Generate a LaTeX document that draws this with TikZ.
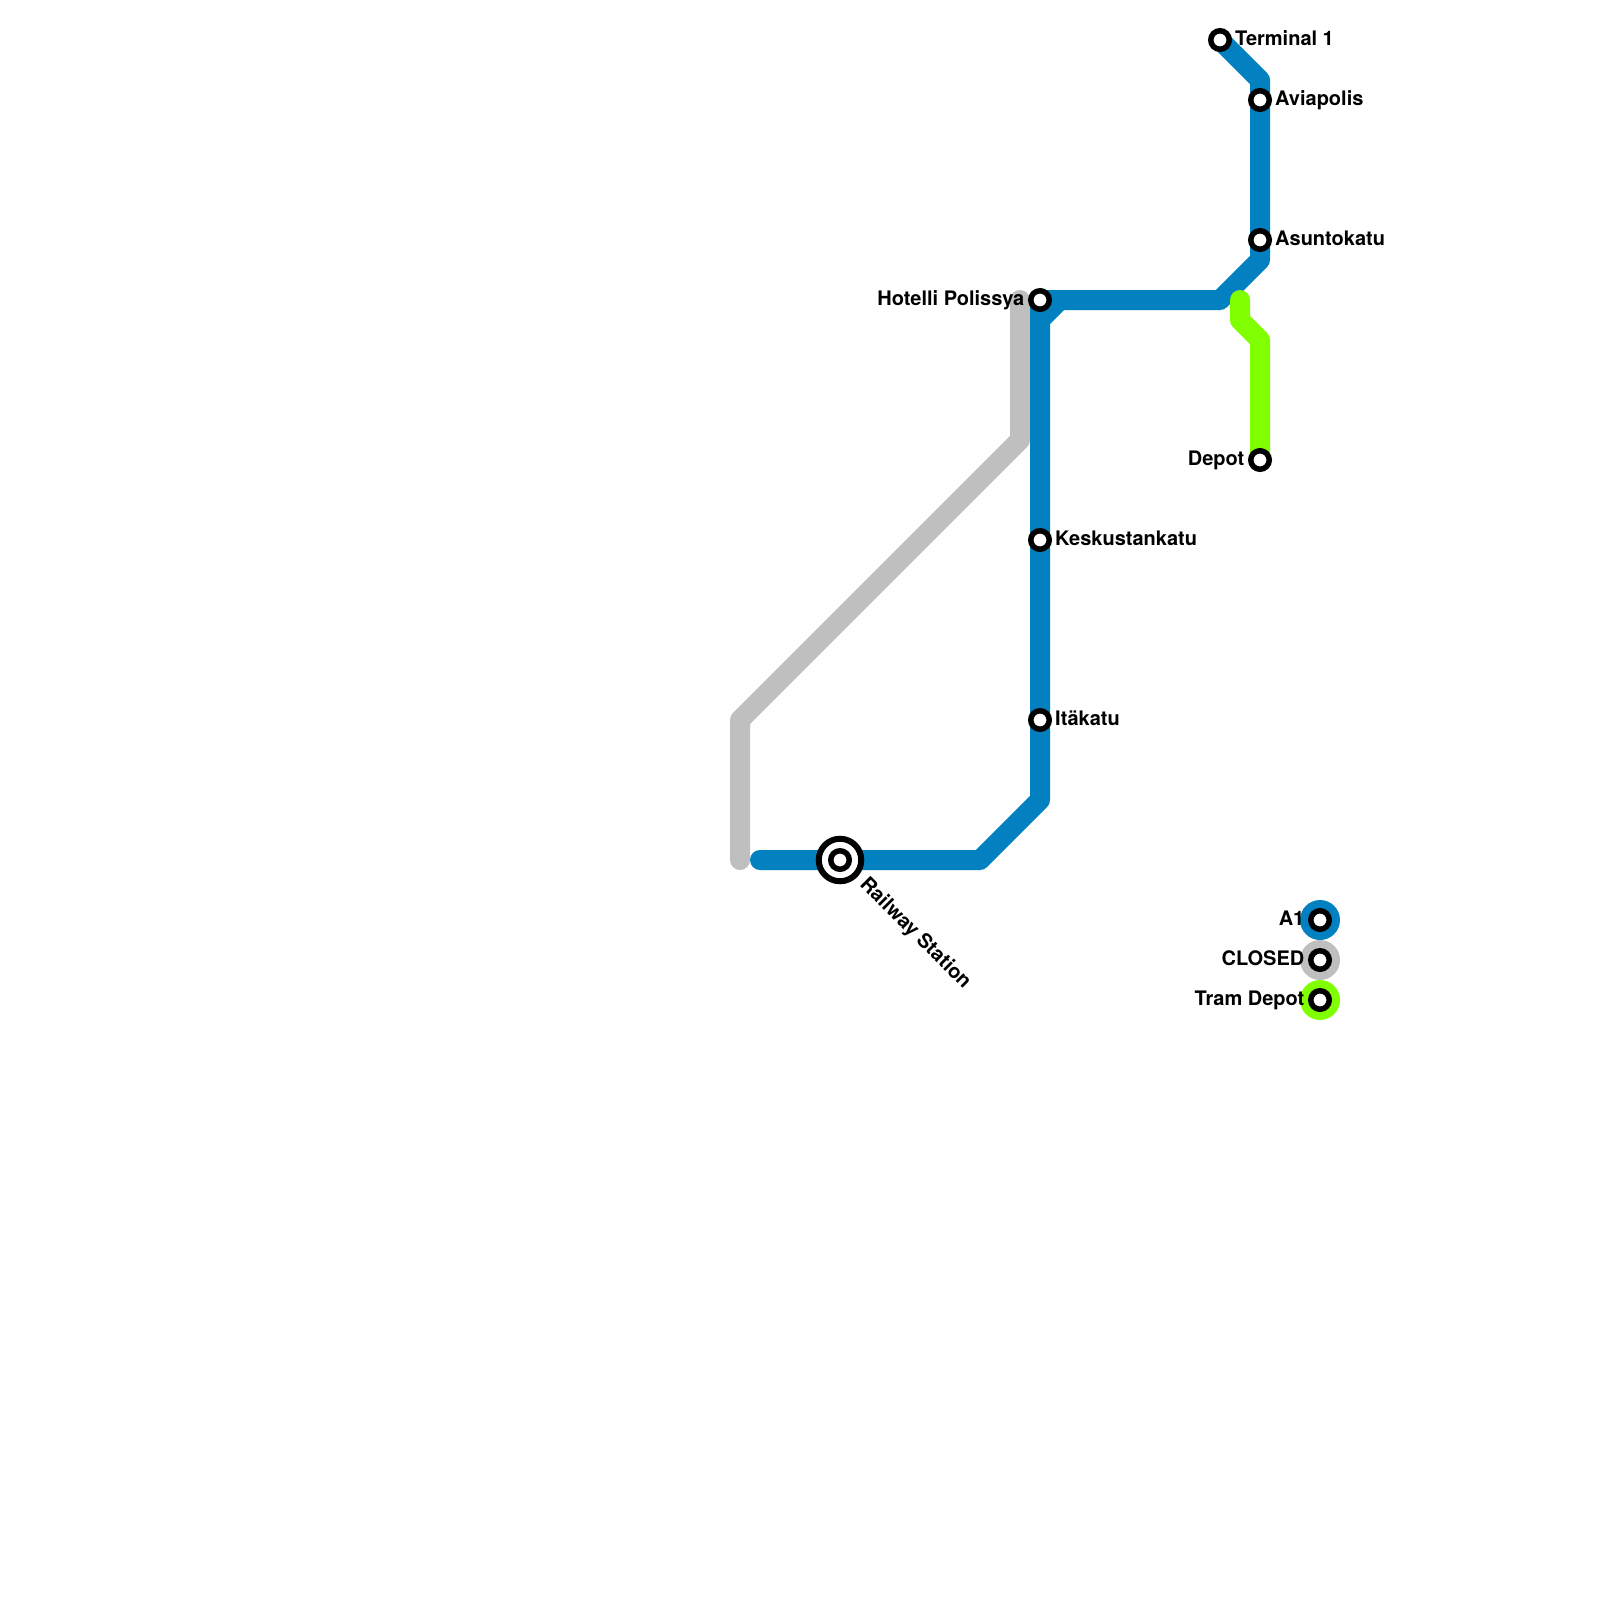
\documentclass[tikz,border=0pt]{standalone}
\usepackage{fontspec}
\setmainfont{TeX Gyre Heros}
\usetikzlibrary{backgrounds}

\definecolor{lineblue}{HTML}{0380C0}
\definecolor{linegrey}{HTML}{BFBFBF}
\definecolor{linegreen}{HTML}{7FFF00}

\begin{document}
\begin{tikzpicture}[x=1pt, y=-1pt]
    \tikzstyle{stop} = [
        circle, draw=black, fill=white, line width=5.5pt,
        minimum size=18.5pt, inner sep=0pt
    ]

    \tikzstyle{ring} = [
        circle, draw=black, fill=white, line width=6pt,
        minimum size=42.5pt, inner sep=0pt
    ]

    \tikzstyle{dot} = [circle, minimum size=40pt, inner sep=0pt]

    \tikzstyle{stop_name} = [
        inner sep=0pt, font=\fontsize{20}{20}\selectfont\bfseries
    ]

    \tikzstyle{name_right} = [stop_name, anchor=base west, xshift=3pt, yshift=-5.4pt]

    \tikzstyle{name_left} = [stop_name, anchor=base east, xshift=-3.5pt, yshift=-5.4pt]

    \tikzstyle{track} = [line width=20pt, line cap=round, line join=round]

    \useasboundingbox (0,0) rectangle (1600,1600);

    % Stations
    \node[stop] (terminal) at (1220,40) {};
    \node[stop] (aviapolis) at (1260,100) {};
    \node[stop] (asuntokatu) at (1260,240) {};
    \node[stop] (polissya) at (1040,300) {};
    \node[stop] (depot) at (1260,460) {};
    \node[stop] (keskusta) at (1040,540) {};
    \node[stop] (itakatu) at (1040,720) {};
    \node[ring] (railway_ring) at (840,860) {};
    \node[stop] (railway) at (railway_ring.center) {};

    % Legend
    \node[dot, fill=lineblue] (key_a1) at (1320,920) {};
    \node[dot, fill=linegrey] (key_closed) at (1320,960) {};
    \node[dot, fill=linegreen] (key_tram) at (1320,1000) {};
    \node[stop] (stop_a1) at (key_a1.center) {};
    \node[stop] (stop_closed) at (key_closed.center) {};
    \node[stop] (stop_tram) at (key_tram.center) {};

    % Names
    \node[name_right] (terminal_name) at (terminal.east) {Terminal 1};
    \node[name_right] (aviapolis_name) at (aviapolis.east) {Aviapolis};
    \node[name_right] (asuntokatu_name) at (asuntokatu.east) {Asuntokatu};
    \node[name_left] (polissya_name) at (polissya.west) {Hotelli Polissya};
    \node[name_left] (depot_name) at (depot.west) {Depot};
    \node[name_right] (keskusta_name) at (keskusta.east) {Keskustankatu};
    \node[name_right] (itakatu_name) at (itakatu.east) {Itäkatu};
    \node[stop_name, anchor=base west, rotate=-45] (railway_name)
        at ([xshift=19pt, yshift=-25pt]railway.center) {Railway Station};
    \node[name_left] (a1_name) at (stop_a1.west) {A1};
    \node[name_left] (closed_name) at (stop_closed.west) {CLOSED};
    \node[name_left] (tram_name) at (stop_tram.west) {Tram Depot};

    % Bends
    \coordinate (b1) at (1260,80);
    \coordinate (b2) at (1260,260);
    \coordinate (b3) at (1220,300);
    \coordinate (b4) at (1060,300);
    \coordinate (b5) at (1040,320);
    \coordinate (b6) at (1040,800);
    \coordinate (b7) at (980,860);
    \coordinate (b8) at (760,860);

    \coordinate (g1) at (1020,300);
    \coordinate (g2) at (1020,440);
    \coordinate (g3) at (740,720);
    \coordinate (g4) at (740,860);

    \coordinate (t1) at (1240,300);
    \coordinate (t2) at (1240,320);
    \coordinate (t3) at (1260,340);

    % Lines
    \begin{pgfonlayer}{background}
        \draw[track, linegrey] (g1) -- (g2) -- (g3) -- (g4);
        \draw[track, lineblue] (terminal.center) -- (b1) -- (b2) -- (b3) -- (polissya.center) -- (b6) -- (b7) -- (b8);
        \draw[track, lineblue] (b4) -- (b5);
        \draw[track, linegreen] (t1) -- (t2) -- (t3) -- (depot.center);
    \end{pgfonlayer}

\end{tikzpicture}
\end{document}
